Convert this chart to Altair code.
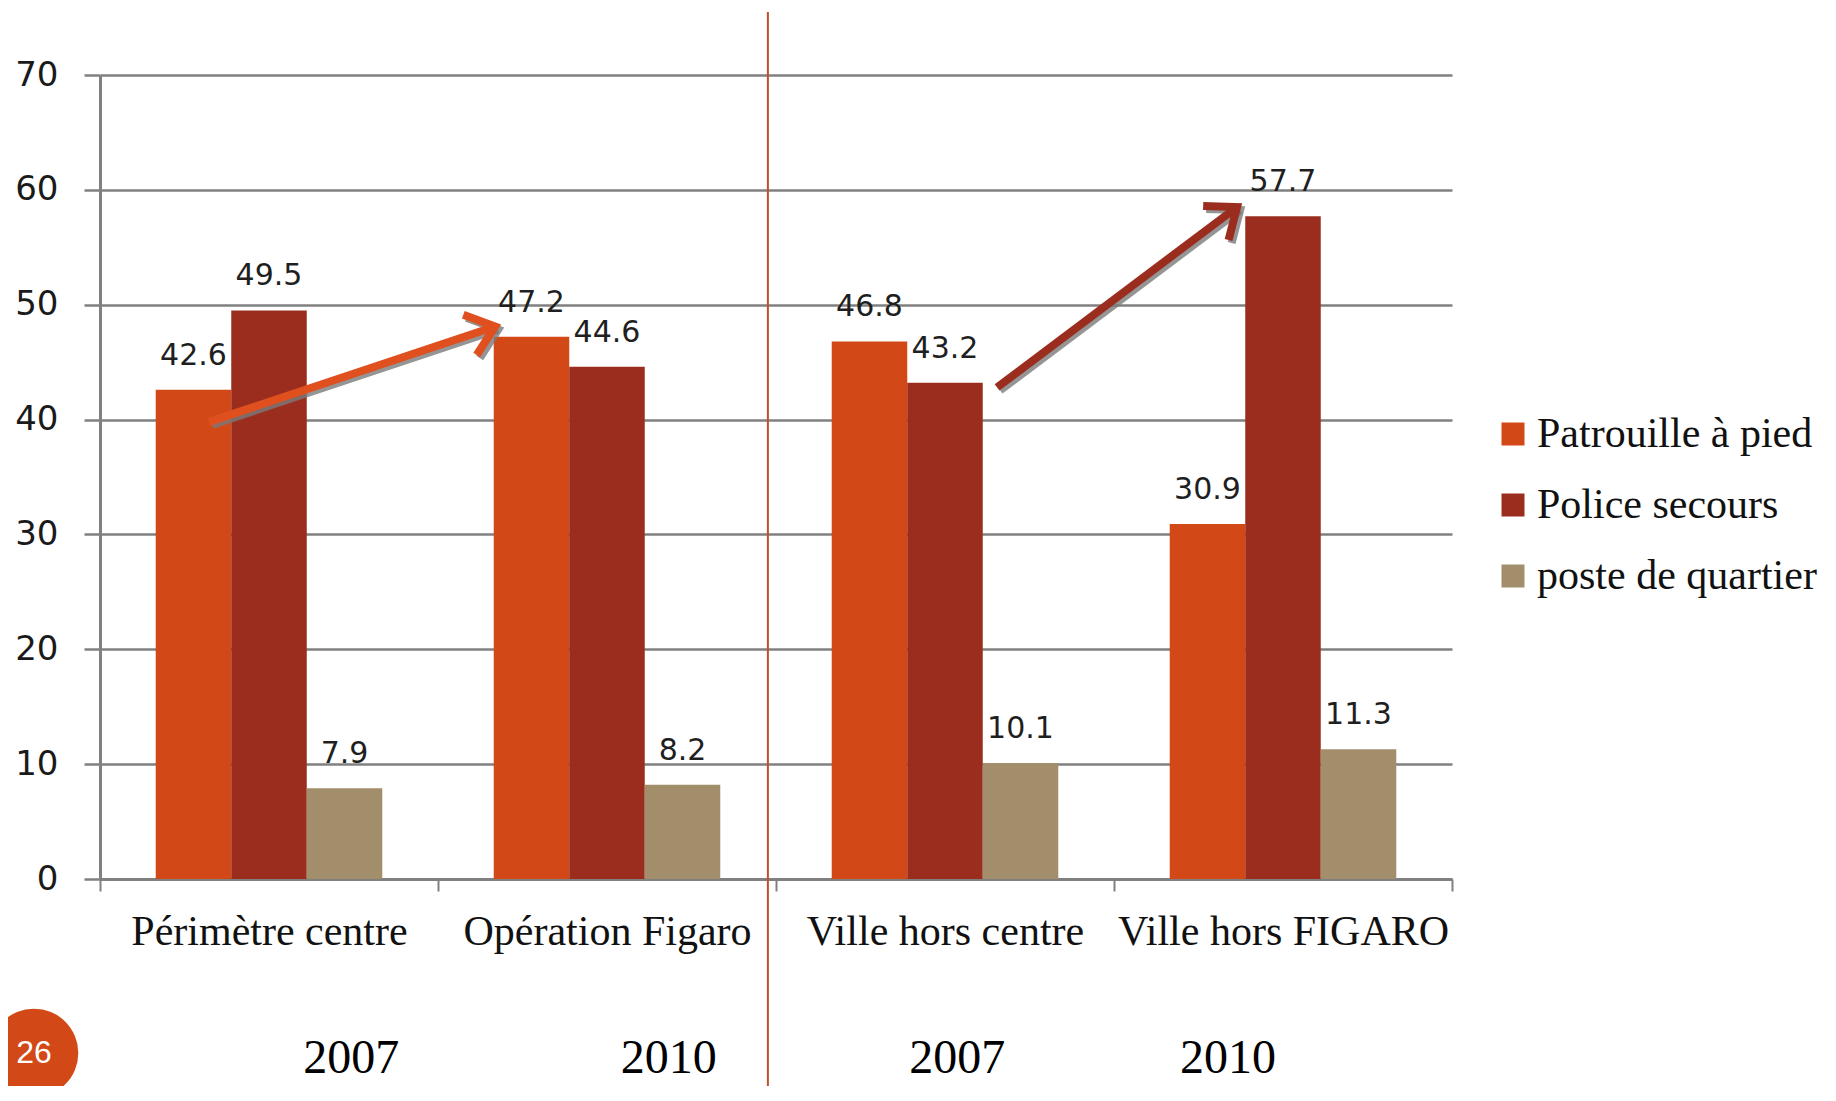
import altair as alt
import pandas as pd

categories = ["Périmètre centre", "Opération Figaro", "Ville hors centre", "Ville hors FIGARO"]
series = ["Patrouille à pied", "Police secours", "poste de quartier"]
patrouille = [42.6, 47.2, 46.8, 30.9]
police = [49.5, 44.6, 43.2, 57.7]
poste = [7.9, 8.2, 10.1, 11.3]
colors = ["#D34817", "#9B2D1F", "#A28E6A"]

years = ["2007", "2010", "2007", "2010"]
year_pos = [0.743, 1.683, 2.536, 3.337]          # in category-band units

# annotation arrows (band units on x, data units on y)
arrow_x0 = [0.3225, 2.654]
arrow_y0 = [39.8, 42.8]
arrow_x1 = [1.169, 3.364]
arrow_y1 = [48.1, 58.5]
arrow_angle = [341.6, 323.1]
arrow_color = ["#E0501E", "#9B2D1F"]

separator_pos = [1.976]

rows = []
for i, c in enumerate(categories):
    for s, vals in zip(series, [patrouille, police, poste]):
        rows.append({"category": c, "series": s, "value": vals[i]})
df = pd.DataFrame(rows)

GRAY = "#808080"
band = alt.Scale(domain=[0, 4])

X = alt.X("category:N", sort=categories,
          scale=alt.Scale(paddingInner=0, paddingOuter=0),
          axis=alt.Axis(title=None, labelAngle=0, labelFont="Liberation Serif",
                        labelFontSize=42, labelColor="#111111", labelPadding=20,
                        tickBand="extent", tickSize=12, tickColor=GRAY, tickWidth=2,
                        domainColor=GRAY, domainWidth=3, grid=False, labelLimit=400))
XO = alt.XOffset("series:N", sort=series,
                 scale=alt.Scale(domain=series, paddingInner=0, paddingOuter=0.738))
Y = alt.Y("value:Q", scale=alt.Scale(domain=[0, 70]),
          axis=alt.Axis(title=None, values=list(range(0, 71, 10)), grid=True,
                        gridColor=GRAY, gridWidth=2.5, domainColor=GRAY, domainWidth=3,
                        tickSize=16, tickColor=GRAY, tickWidth=2.5,
                        labelFont="DejaVu Sans", labelFontSize=34, labelColor="#1a1a1a",
                        labelPadding=26))

base = alt.Chart(df).encode(x=X, xOffset=XO, y=Y)
bars = base.mark_bar().encode(
    color=alt.Color("series:N", sort=series,
                    scale=alt.Scale(domain=series, range=colors),
                    legend=alt.Legend(title=None, orient="none", legendX=1392, legendY=338,
                                      symbolType="square", symbolSize=529,
                                      symbolStrokeWidth=0, symbolOpacity=1,
                                      labelFont="Liberation Serif", labelFontSize=42,
                                      labelColor="#111111", rowPadding=29, labelOffset=3,
                                      padding=0, labelLimit=400))
)
labels = base.mark_text(font="DejaVu Sans", fontSize=30, dy=-25,
                        baseline="alphabetic", color="#1f1f1f").encode(
    text=alt.Text("value:Q", format=".1f"))

main = alt.layer(bars, labels)

ann = []
for i in range(len(arrow_x0)):
    adf = pd.DataFrame({"x0": [arrow_x0[i]], "y0": [arrow_y0[i]],
                        "x1": [arrow_x1[i]], "y1": [arrow_y1[i]]})
    a = alt.Chart(adf)
    sh = a.transform_calculate(sx0="datum.x0 + 0.009", sx1="datum.x1 + 0.009",
                               sy0="datum.y0 - 0.26", sy1="datum.y1 - 0.26")
    ann.append(sh.mark_rule(strokeWidth=8, color="#7a7a7a", opacity=0.8).encode(
        x=alt.X("sx0:Q", scale=band, axis=None), x2="sx1:Q",
        y=alt.Y("sy0:Q", scale=alt.Scale(domain=[0, 70]), axis=None), y2="sy1:Q"))
    ann.append(sh.mark_point(shape="M-1,-0.8L0,0L-1,0.8", size=2800, filled=False,
                             strokeWidth=8, strokeJoin="miter", color="#7a7a7a",
                             opacity=0.8, angle=arrow_angle[i]).encode(
        x=alt.X("sx1:Q", scale=band, axis=None),
        y=alt.Y("sy1:Q", scale=alt.Scale(domain=[0, 70]), axis=None)))
    ann.append(a.mark_rule(strokeWidth=8, color=arrow_color[i]).encode(
        x=alt.X("x0:Q", scale=band, axis=None), x2="x1:Q",
        y=alt.Y("y0:Q", scale=alt.Scale(domain=[0, 70]), axis=None), y2="y1:Q"))
    ann.append(a.mark_point(shape="M-1,-0.8L0,0L-1,0.8", size=2800, filled=False,
                            strokeWidth=8, strokeJoin="miter", color=arrow_color[i],
                            opacity=1, angle=arrow_angle[i]).encode(
        x=alt.X("x1:Q", scale=band, axis=None),
        y=alt.Y("y1:Q", scale=alt.Scale(domain=[0, 70]), axis=None)))

sep = alt.Chart(pd.DataFrame({"sx": separator_pos})).mark_rule(
    color="#C0502A", strokeWidth=2).encode(
    x=alt.X("sx:Q", scale=band, axis=None), y=alt.value(-63), y2=alt.value(1015))

yr = alt.Chart(pd.DataFrame({"pos": year_pos, "year": years})).mark_text(
    font="Liberation Serif", fontSize=48, baseline="alphabetic", color="#000000").encode(
    x=alt.X("pos:Q", scale=band, axis=None), y=alt.value(998), text="year:N")

badge_df = pd.DataFrame({"t": ["26"]})
circle = alt.Chart(badge_df).mark_point(shape="circle", filled=True, size=7850,
                                        color="#D34817", opacity=1).encode(
    x=alt.value(-66), y=alt.value(978))
badge = alt.Chart(badge_df).mark_text(font="Liberation Sans", fontSize=32,
                                      color="white", baseline="middle").encode(
    x=alt.value(-66), y=alt.value(978), text="t:N")

chart = alt.layer(main, *ann, sep, yr, circle, badge).resolve_scale(
    x="independent", y="independent").properties(
    width=1352, height=804,
    autosize=alt.AutoSizeParams(type="none"),
    padding={"left": 92, "top": 67, "right": 376, "bottom": 207},
    background="white",
).configure_view(stroke=None)

chart.save("out.html", embed_options={"renderer": "svg", "actions": False})
